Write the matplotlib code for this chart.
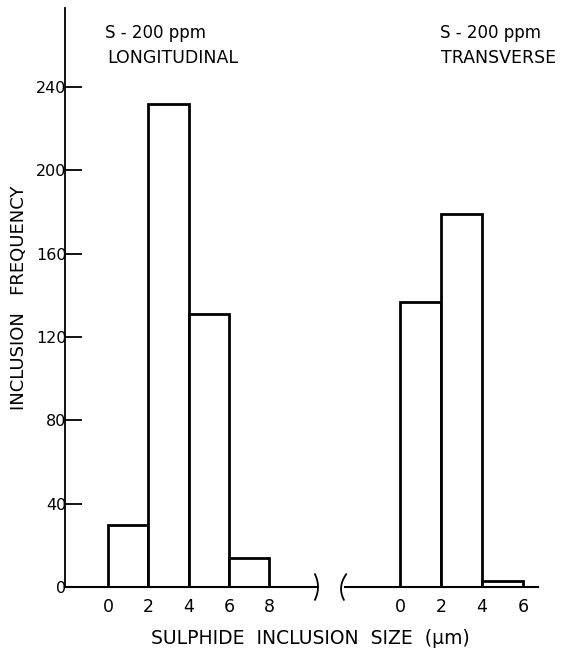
import matplotlib.pyplot as plt
import numpy as np

# bin left edges (um) and counts
long_edges = [0, 2, 4, 6]
long_counts = [30, 232, 131, 14]
trans_edges = [0, 2, 4]
trans_counts = [137, 179, 3]
bin_width = 2
long_ticks = [0, 2, 4, 6, 8]
trans_ticks = [0, 2, 4, 6]
y_ticks = [0, 40, 80, 120, 160, 200, 240]

plt.rcParams['font.family'] = ['DejaVu Sans']
fig = plt.figure(figsize=(5.61, 6.56), dpi=100)

bottom = 1 - 587 / 656
height = (587 - 8) / 656
ax1 = fig.add_axes([65 / 561, bottom, (318 - 65) / 561, height])
ax2 = fig.add_axes([345 / 561, bottom, (538 - 345) / 561, height])

def draw(ax, edges, counts, ticks, xlim):
    ax.bar(edges, counts, width=bin_width, align='edge', facecolor='white',
           edgecolor='black', linewidth=2)
    ax.set_xlim(*xlim)
    ax.set_ylim(0, 278)
    ax.set_xticks(ticks)
    ax.tick_params(axis='x', length=0, labelsize=12.5, pad=8)
    for s in ['top', 'right']:
        ax.spines[s].set_visible(False)
    ax.spines['bottom'].set_linewidth(1.5)

draw(ax1, long_edges, long_counts, long_ticks, (-2.13, 10.42))
draw(ax2, trans_edges, trans_counts, trans_ticks, (-2.68, 6.73))

ax1.set_yticks(y_ticks)
ax1.tick_params(axis='y', direction='in', length=12, width=1.3, labelsize=11.5, pad=-1)
ax1.spines['left'].set_linewidth(1.3)
ax2.spines['left'].set_visible(False)
ax2.set_yticks([])

ax1.set_ylabel('INCLUSION   FREQUENCY', fontsize=13, labelpad=6)

# axis-break marks
t = np.linspace(-1, 1, 30)
ax1.plot(1 + 0.012 * (1 - t ** 2) - 0.012, 0.022 * t, color='black', lw=1.3,
         transform=ax1.transAxes, clip_on=False)
ax2.plot(-0.02 * (1 - t ** 2) + 0.02 * t * 0.3, 0.022 * t, color='black', lw=1.3,
         transform=ax2.transAxes, clip_on=False)

fig.text(105 / 561, 1 - 33 / 656, 'S - 200 ppm', fontsize=12, va='center')
fig.text(107 / 561, 1 - 58 / 656, 'LONGITUDINAL', fontsize=12.5, va='center')
fig.text(440 / 561, 1 - 33 / 656, 'S - 200 ppm', fontsize=12, va='center')
fig.text(441 / 561, 1 - 58 / 656, 'TRANSVERSE', fontsize=12.5, va='center')

fig.text(310 / 561, 1 - 638 / 656, 'SULPHIDE  INCLUSION  SIZE  (\u03bcm)',
         fontsize=13.5, ha='center', va='center')

fig.savefig('out.png', dpi=100)
